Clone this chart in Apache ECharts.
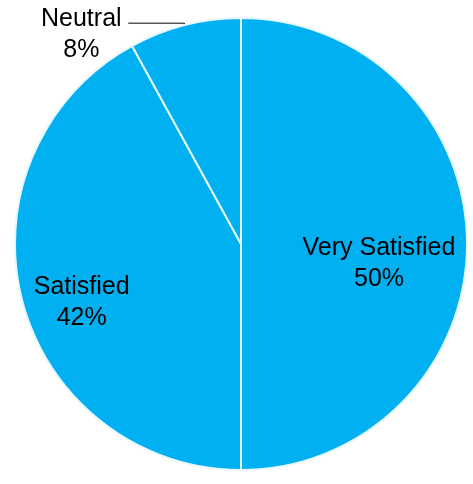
<!DOCTYPE html>
<html>
<head>
<meta charset="utf-8">
<style>html,body{margin:0;padding:0;background:#fff;}#c{width:473px;height:484px;}</style>
<script src="https://cdn.jsdelivr.net/npm/echarts@6/dist/echarts.min.js"></script>
</head>
<body>
<div id="c"></div>
<script>
var categories = ['Very Satisfied', 'Satisfied', 'Neutral'];
var values = [50, 42, 8];

var labelOffsets = [[22, 20], [-47, 30], [2, 11]];

var FONT = 'Liberation Sans, Arial, sans-serif';
var chart = echarts.init(document.getElementById('c'));
var data = categories.map(function (name, i) {
  var item = { name: name, value: values[i] };
  if (i === 2) {
    item.label = {
      position: 'outside',
      offset: labelOffsets[i],
      formatter: '{n|{b}}\n{n|{d}%}',
      rich: { n: { fontFamily: FONT, fontSize: 25, lineHeight: 31, color: '#000', width: 88, align: 'center' } }
    };
    item.labelLine = { show: true, length: 2, length2: 56, lineStyle: { color: '#000', width: 1 } };
  } else {
    item.label = { position: 'inside', offset: labelOffsets[i] };
    item.labelLine = { show: false };
  }
  return item;
});

chart.setOption({
  backgroundColor: '#fff',
  animation: false,
  series: [{
    type: 'pie',
    center: [241, 244],
    radius: 226,
    startAngle: 90,
    clockwise: true,
    avoidLabelOverlap: false,
    color: ['#00B0F0'],
    itemStyle: { color: '#00B0F0', borderColor: '#E6F7FD', borderWidth: 2 },
    label: {
      formatter: '{a|{b}}\n{a|{d}%}',
      color: '#000',
      rich: {
        a: {
          fontFamily: FONT,
          fontSize: 25,
          lineHeight: 31,
          color: '#000',
          width: 170,
          align: 'center'
        }
      }
    },
    emphasis: { disabled: true },
    data: data
  }]
});
</script>
</body>
</html>
